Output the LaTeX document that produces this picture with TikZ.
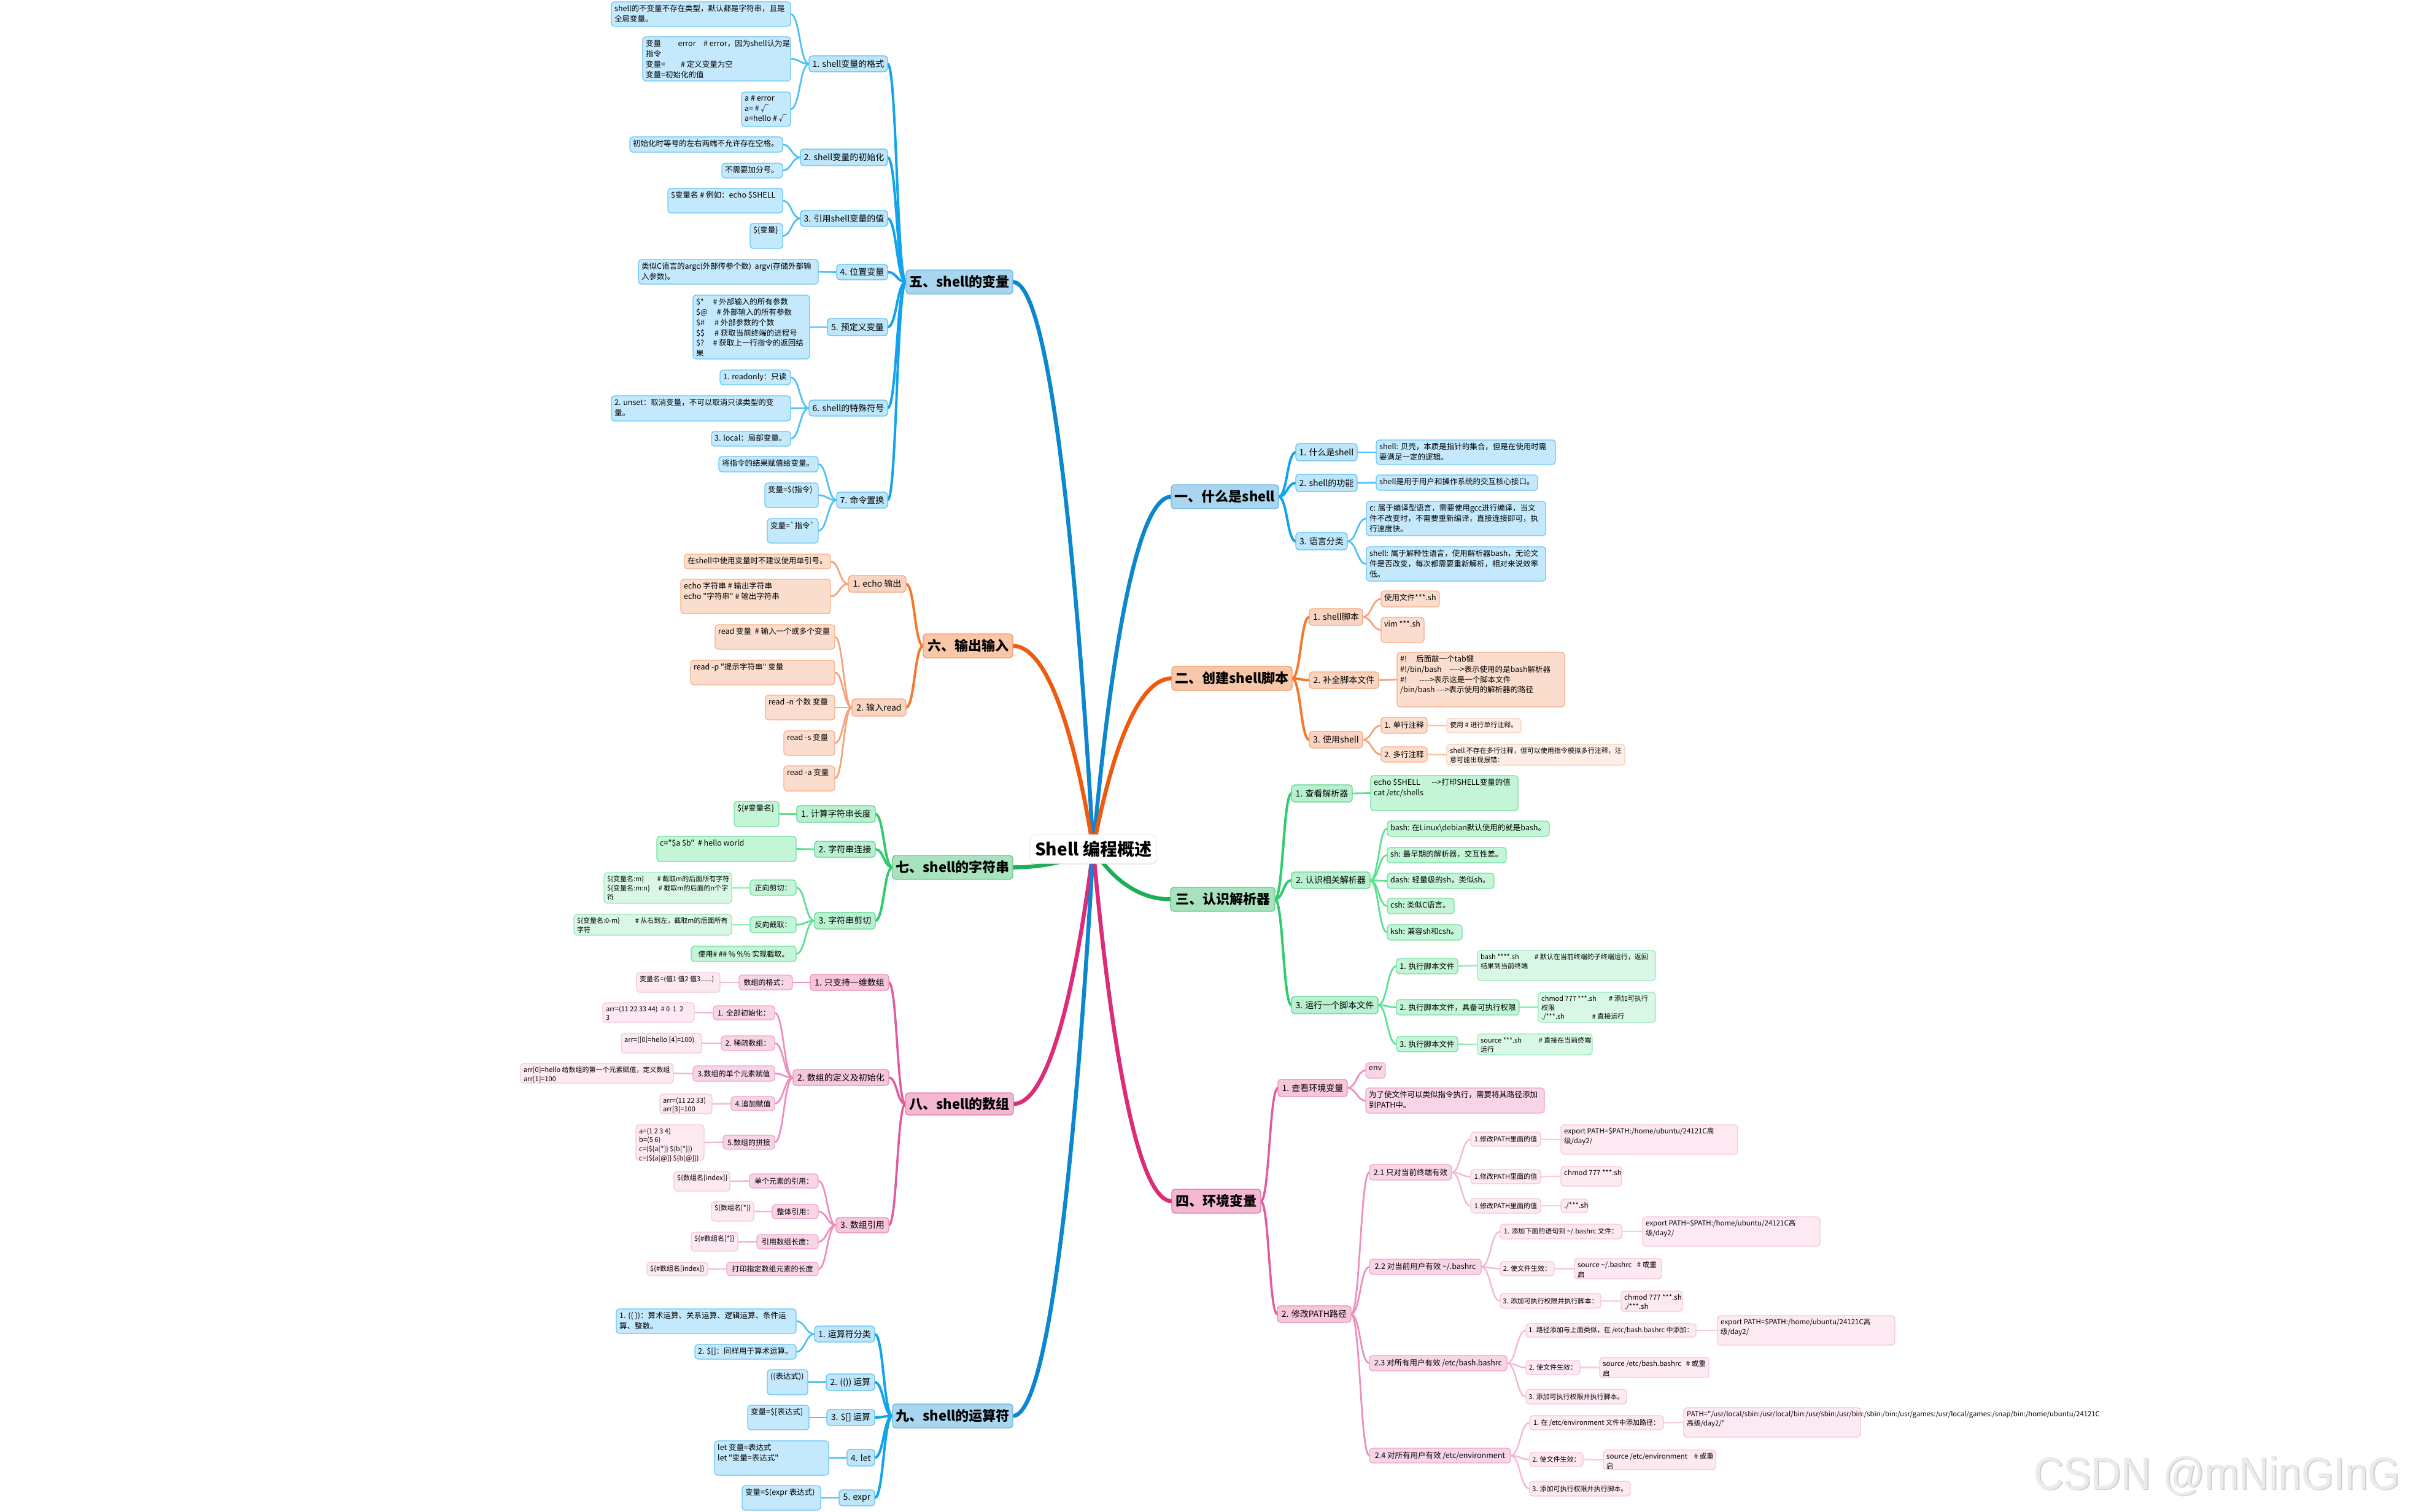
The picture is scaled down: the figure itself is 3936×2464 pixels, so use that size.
\documentclass[tikz,border=0pt]{standalone}
\usepackage{fontspec}
\newfontfamily\cjk{Noto Sans CJK SC}
\newfontfamily\wmf[FakeStretch=0.9]{Liberation Sans}
\usetikzlibrary{calc,shadows}
\pgfdeclarelayer{back}
\pgfdeclarelayer{bg}
\pgfsetlayers{back,bg,main}
\definecolor{bAf}{HTML}{A9D5EE}\definecolor{bAd}{HTML}{6DB8E4}
\definecolor{bBf}{HTML}{BEE6FA}\definecolor{bBd}{HTML}{5DC1F3}
\definecolor{bCf}{HTML}{C4E9FD}\definecolor{bCd}{HTML}{67C6F6}
\definecolor{oAf}{HTML}{F8C6A9}\definecolor{oAd}{HTML}{F39A68}
\definecolor{oBf}{HTML}{F9D5C1}\definecolor{oBd}{HTML}{F6A57B}
\definecolor{oCf}{HTML}{FADDCC}\definecolor{oCd}{HTML}{F8B089}
\definecolor{oDf}{HTML}{FDEEE6}\definecolor{oDd}{HTML}{FBD0B8}
\definecolor{gAf}{HTML}{A8E2BF}\definecolor{gAd}{HTML}{63C98B}
\definecolor{gBf}{HTML}{B9F0CF}\definecolor{gBd}{HTML}{5BD78C}
\definecolor{gCf}{HTML}{C3F5D6}\definecolor{gCd}{HTML}{72E0A0}
\definecolor{gDf}{HTML}{D8F8E5}\definecolor{gDd}{HTML}{9BE9BB}
\definecolor{pAf}{HTML}{F3B7D2}\definecolor{pAd}{HTML}{E573A8}
\definecolor{pBf}{HTML}{F6C6DB}\definecolor{pBd}{HTML}{EC8CBA}
\definecolor{pCf}{HTML}{F8D5E6}\definecolor{pCd}{HTML}{F1A5C9}
\definecolor{pDf}{HTML}{FCE9F2}\definecolor{pDd}{HTML}{F7C5DC}
\definecolor{bT}{HTML}{0C86CF}\definecolor{bL2}{HTML}{11A3EC}\definecolor{bL3}{HTML}{4EC1F6}
\definecolor{oT}{HTML}{EE5B10}\definecolor{oL2}{HTML}{F4792F}\definecolor{oL3}{HTML}{F6A27B}\definecolor{oL4}{HTML}{F9C3A6}
\definecolor{gT}{HTML}{1DAF57}\definecolor{gL2}{HTML}{2ECC6E}\definecolor{gL3}{HTML}{5EE092}\definecolor{gL4}{HTML}{95ECB8}
\definecolor{pT}{HTML}{DC2B78}\definecolor{pL2}{HTML}{E35A9D}\definecolor{pL3}{HTML}{EC8FBE}\definecolor{pL4}{HTML}{F4B6D3}\definecolor{pL5}{HTML}{F8CCE0}
\definecolor{wmc}{HTML}{EBEBEB}\definecolor{wms}{HTML}{CDCDCD}
\newcommand\fsz[1]{\fontsize{#1}{\fpeval{1.34*#1}}\selectfont}
\tikzset{
 nbase/.style={draw, rounded corners=5pt, line width=1.3pt, inner sep=2pt, outer sep=0pt},
 bA/.style={fill=bAf,draw=bAd}, bB/.style={fill=bBf,draw=bBd}, bC/.style={fill=bCf,draw=bCd},
 oA/.style={fill=oAf,draw=oAd}, oB/.style={fill=oBf,draw=oBd}, oC/.style={fill=oCf,draw=oCd}, oD/.style={fill=oDf,draw=oDd},
 gA/.style={fill=gAf,draw=gAd}, gB/.style={fill=gBf,draw=gBd}, gC/.style={fill=gCf,draw=gCd}, gD/.style={fill=gDf,draw=gDd},
 pA/.style={fill=pAf,draw=pAd}, pB/.style={fill=pBf,draw=pBd}, pC/.style={fill=pCf,draw=pCd}, pD/.style={fill=pDf,draw=pDd},
 cn/.style={line cap=round, fill=none},
 tB/.style={cn,draw=bT,line width=6.5pt}, tO/.style={cn,draw=oT,line width=6.5pt},
 tG/.style={cn,draw=gT,line width=6.5pt}, tP/.style={cn,draw=pT,line width=6.5pt},
 lB2/.style={cn,draw=bL2,line width=4pt}, lB3/.style={cn,draw=bL3,line width=2.8pt},
 lO2/.style={cn,draw=oL2,line width=4pt}, lO3/.style={cn,draw=oL3,line width=2.8pt}, lO4/.style={cn,draw=oL4,line width=2.4pt},
 lG2/.style={cn,draw=gL2,line width=4pt}, lG3/.style={cn,draw=gL3,line width=2.8pt}, lG4/.style={cn,draw=gL4,line width=2.4pt},
 lP2/.style={cn,draw=pL2,line width=3.6pt}, lP3/.style={cn,draw=pL3,line width=2.8pt}, lP4/.style={cn,draw=pL4,line width=2.4pt}, lP5/.style={cn,draw=pL5,line width=2.2pt},
}
% centred box: style, size, name, x1,y1,x2,y2, text
\newcommand\nb[8]{\node[nbase,#1,font=\cjk\fsz{#2},minimum width={#6-#4},minimum height={#7-#5}] (#3) at ({(#4+#6)/2},{(#5+#7)/2}) {#8};}
% leaf box with top-left text
\newcommand\lf[8]{\node[nbase,#1,minimum width={#6-#4},minimum height={#7-#5}] (#3) at ({(#4+#6)/2},{(#5+#7)/2}) {};%
\node[anchor=north west,inner sep=0pt,align=left,font=\cjk\fsz{#2}] (#3t) at ([xshift=5pt,yshift=-5pt]#3.north west) {#8};}
\newcommand\cc[3]{\draw[#1] let \p1=(#2), \p2=(#3) in (\p1) .. controls ({0.5*(\x1+\x2)},\y1) and ({0.5*(\x1+\x2)},\y2) .. (\p2);}
\newcommand\cL[3]{\cc{#1}{#2.west}{#3.east}}
\newcommand\cR[3]{\cc{#1}{#2.east}{#3.west}}
\newcommand\rc[2]{\draw[#1] let \p1=(root.center), \p2=(#2) in (\p1) .. controls ({\x1+0.12*(\x2-\x1)},{\y1+0.3*(\y2-\y1)}) and ({\x2-0.55*(\x2-\x1)},\y2) .. (\p2);}
\begin{document}
\begin{tikzpicture}[x=1pt,y=-1pt]
\useasboundingbox (0,0) rectangle (3936,2464);
\begin{pgfonlayer}{back}
\fill[white] (0,0) rectangle (3936,2464);
\end{pgfonlayer}

\node[fill=white, draw=black!8, line width=1pt, rounded corners=8pt, minimum width=206, minimum height=47, font=\cjk\fsz{28}\bfseries, drop shadow={shadow xshift=0pt,shadow yshift=-2pt,opacity=0.15}] (root) at (1781,1383.5) {Shell 编程概述};

% ===== 五 =====
\nb{bA}{22}{n5}{1476}{440}{1650}{479}{\bfseries 五、shell的变量}
\nb{bB}{14}{n5a}{1318}{91}{1446}{117}{1. shell变量的格式}
\nb{bB}{14}{n5b}{1304}{243}{1446}{270}{2. shell变量的初始化}
\nb{bB}{14}{n5c}{1304}{343}{1446}{369}{3. 引用shell变量的值}
\nb{bB}{14}{n5d}{1363}{431}{1446}{456}{4. 位置变量}
\nb{bB}{14}{n5e}{1348}{519}{1446}{547}{5. 预定义变量}
\nb{bB}{14}{n5f}{1318}{652}{1446}{678}{6. shell的特殊符号}
\nb{bB}{14}{n5g}{1363}{802}{1446}{828}{7. 命令置换}
\lf{bC}{12.5}{n5a1}{996}{3}{1288}{43}{shell的不变量不存在类型，默认都是字符串，且是\\全局变量。}
\lf{bC}{12.5}{n5a2}{1047}{60}{1288}{132}{变量\hspace{2.2em}error\hspace{1em}\# error，因为shell认为是\\指令\\变量=\hspace{2em}\# 定义变量为空\\变量=初始化的值}
\lf{bC}{12.5}{n5a3}{1208}{150}{1288}{206}{a \# error\\a= \# √\\a=hello \# √}
\lf{bC}{12.5}{n5b1}{1026}{223}{1275}{248}{初始化时等号的左右两端不允许存在空格。}
\lf{bC}{12.5}{n5b2}{1176}{266}{1275}{290}{不需要加分号。}
\lf{bC}{12.5}{n5c1}{1088}{307}{1275}{347}{\$变量名 \# 例如：echo \$SHELL}
\lf{bC}{12.5}{n5c2}{1222}{364}{1275}{405}{\$\{变量\}}
\lf{bC}{12.5}{n5d1}{1040}{423}{1333}{463}{类似C语言的argc(外部传参个数)\ \ argv(存储外部输\\入参数)。}
\lf{bC}{12.5}{n5e1}{1129}{481}{1319}{585}{\makebox[2.2em][l]{\$*}\# 外部输入的所有参数\\\makebox[2.7em][l]{\$@}\# 外部输入的所有参数\\\makebox[2.4em][l]{\$\#}\# 外部参数的个数\\\makebox[2.4em][l]{\$\$}\# 获取当前终端的进程号\\\makebox[2.2em][l]{\$?}\# 获取上一行指令的返回结\\果}
\lf{bC}{12.5}{n5f1}{1173}{603}{1288}{627}{1. readonly：只读}
\lf{bC}{12.5}{n5f2}{996}{645}{1288}{686}{2. unset：取消变量，不可以取消只读类型的变\\量。}
\lf{bC}{12.5}{n5f3}{1159}{703}{1288}{727}{3. local：局部变量。}
\lf{bC}{12.5}{n5g1}{1171}{744}{1333}{769}{将指令的结果赋值给变量。}
\lf{bC}{12.5}{n5g2}{1246}{787}{1333}{827}{变量=\$(指令)}
\lf{bC}{12.5}{n5g3}{1250}{845}{1333}{885}{变量=`指令`}

% ===== 六 =====
\nb{oA}{22}{n6}{1504}{1033}{1650}{1072}{\bfseries 六、输出输入}
\nb{oB}{14}{n6a}{1382}{938}{1476}{965}{1. echo 输出}
\nb{oB}{14}{n6b}{1388}{1139}{1476}{1167}{2. 输入read}
\lf{oC}{12.5}{n6a1}{1115}{903}{1353}{927}{在shell中使用变量时不建议使用单引号。}
\lf{oC}{12.5}{n6a2}{1109}{944}{1353}{1000}{echo 字符串 \# 输出字符串\\echo "字符串" \# 输出字符串}
\lf{oC}{12.5}{n6b1}{1165}{1018}{1360}{1058}{read 变量\ \ \# 输入一个或多个变量}
\lf{oC}{12.5}{n6b2}{1125}{1076}{1360}{1116}{read -p "提示字符串" 变量}
\lf{oC}{12.5}{n6b3}{1247}{1133}{1360}{1173}{read -n 个数 变量}
\lf{oC}{12.5}{n6b4}{1277}{1191}{1360}{1231}{read -s 变量}
\lf{oC}{12.5}{n6b5}{1277}{1248}{1360}{1289}{read -a 变量}

% ===== 七 =====
\nb{gA}{22}{n7}{1454}{1394}{1650}{1433}{\bfseries 七、shell的字符串}
\nb{gB}{14}{n7a}{1298}{1313}{1426}{1340}{1. 计算字符串长度}
\nb{gB}{14}{n7b}{1327}{1371}{1426}{1397}{2. 字符串连接}
\nb{gB}{14}{n7c}{1327}{1487}{1426}{1514}{3. 字符串剪切}
\lf{gC}{12.5}{n7a1}{1196}{1306}{1269}{1347}{\$\{\#变量名\}}
\lf{gC}{12.5}{n7b1}{1070}{1363}{1297}{1404}{c="\$a \$b"\ \ \# hello world}
\nb{gC}{12}{n7c1}{1222}{1434}{1297}{1459}{正向剪切：}
\nb{gC}{12}{n7c2}{1222}{1494}{1297}{1520}{反向截取：}
\nb{gC}{12}{n7c3}{1126}{1542}{1297}{1567}{使用\# \#\# \% \%\% 实现截取。}
\lf{gD}{11}{n7c1a}{984}{1422}{1192}{1472}{\makebox[7.4em][l]{\$\{变量名:m\}}\# 截取m的后面所有字符\\\makebox[7.6em][l]{\$\{变量名:m:n\}}\# 截取m的后面的n个字\\符}
\lf{gD}{11}{n7c2a}{935}{1490}{1192}{1524}{\makebox[8.6em][l]{\$\{变量名:0-m\}}\# 从右到左，截取m的后面所有\\字符}

% ===== 八 =====
\nb{pA}{22}{n8}{1475}{1781}{1651}{1817}{\bfseries 八、shell的数组}
\nb{pB}{14}{n8a}{1320}{1588}{1448}{1614}{1. 只支持一维数组}
\nb{pB}{14}{n8b}{1292}{1743}{1448}{1769}{2. 数组的定义及初始化}
\nb{pB}{14}{n8c}{1362}{1984}{1448}{2009}{3. 数组引用}
\nb{pC}{12}{n8a1}{1204}{1589}{1291}{1613}{数组的格式：}
\nb{pC}{12}{n8b1}{1162}{1639}{1262}{1662}{1. 全部初始化：}
\nb{pC}{12}{n8b2}{1175}{1688}{1262}{1712}{2. 稀疏数组：}
\nb{pC}{12}{n8b3}{1129}{1737}{1262}{1762}{3.数组的单个元素赋值}
\nb{pC}{12}{n8b4}{1191}{1787}{1262}{1810}{4.追加赋值}
\nb{pC}{12}{n8b5}{1178}{1850}{1262}{1873}{5.数组的拼接}
\nb{pC}{12}{n8c1}{1221}{1913}{1333}{1936}{单个元素的引用：}
\nb{pC}{12}{n8c2}{1258}{1963}{1333}{1986}{整体引用：}
\nb{pC}{12}{n8c3}{1233}{2012}{1333}{2035}{引用数组长度：}
\nb{pC}{12}{n8c4}{1184}{2057}{1333}{2079}{打印指定数组元素的长度}
\lf{pD}{11}{n8a1a}{1037}{1585}{1173}{1617}{变量名=(值1 值2 值3......)}
\lf{pD}{11}{n8b1a}{982}{1634}{1131}{1666}{arr=(11 22 33 44)\ \ \# 0\ \ 1\ \ 2\\3}
\lf{pD}{11}{n8b2a}{1012}{1684}{1143}{1716}{arr=([0]=hello [4]=100)}
\lf{pD}{11}{n8b3a}{848}{1733}{1097}{1765}{arr[0]=hello 给数组的第一个元素赋值，定义数组\\arr[1]=100}
\lf{pD}{11}{n8b4a}{1075}{1783}{1160}{1815}{arr=(11 22 33)\\arr[3]=100}
\lf{pD}{11}{n8b5a}{1036}{1833}{1147}{1891}{a=(1 2 3 4)\\b=(5 6)\\c=(\$\{a[*]\} \$\{b[*]\})\\c=(\$\{a[@]\} \$\{b[@]\})}
\lf{pD}{11}{n8c1a}{1098}{1909}{1189}{1941}{\$\{数组名[index]\}}
\lf{pD}{11}{n8c2a}{1159}{1958}{1228}{1990}{\$\{数组名[*]\}}
\lf{pD}{11}{n8c3a}{1126}{2008}{1202}{2039}{\$\{\#数组名[*]\}}
\lf{pD}{11}{n8c4a}{1054}{2057}{1153}{2079}{\$\{\#数组名[index]\}}

% ===== 九 =====
\nb{bA}{22}{n9}{1454}{2288}{1650}{2327}{\bfseries 九、shell的运算符}
\nb{bB}{14}{n9a}{1327}{2161}{1425}{2187}{1. 运算符分类}
\nb{bB}{14}{n9b}{1346}{2239}{1425}{2266}{2. (()) 运算}
\nb{bB}{14}{n9c}{1347}{2297}{1425}{2323}{3. \$[] 运算}
\nb{bB}{14}{n9d}{1380}{2362}{1425}{2389}{4. let}
\nb{bB}{14}{n9e}{1367}{2428}{1425}{2454}{5. expr}
\lf{bC}{12.5}{n9a1}{1004}{2133}{1297}{2173}{1. ((\ ))：算术运算、关系运算、逻辑运算、条件运\\算、整数。}
\lf{bC}{12.5}{n9a2}{1132}{2191}{1297}{2215}{2. \$[]：同样用于算术运算。}
\lf{bC}{12.5}{n9b1}{1250}{2232}{1316}{2273}{((表达式))}
\lf{bC}{12.5}{n9c1}{1218}{2290}{1318}{2330}{变量=\$[表达式]}
\lf{bC}{12.5}{n9d1}{1164}{2348}{1350}{2404}{let 变量=表达式\\let "变量=表达式"}
\lf{bC}{12.5}{n9e1}{1209}{2421}{1337}{2461}{变量=\$(expr 表达式)}

% ===== 一 =====
\nb{bA}{22}{n1}{1908}{790}{2083}{829}{\bfseries 一、什么是shell}
\nb{bB}{14}{n1a}{2111}{723}{2211}{751}{1. 什么是shell}
\nb{bB}{14}{n1b}{2111}{773}{2211}{801}{2. shell的功能}
\nb{bB}{14}{n1c}{2111}{868}{2195}{896}{3. 语言分类}
\lf{bC}{12.5}{n1a1}{2242}{717}{2534}{757}{shell: 贝壳，本质是指针的集合，但是在使用时需\\要满足一定的逻辑。}
\lf{bC}{12.5}{n1b1}{2242}{774}{2505}{799}{shell是用于用户和操作系统的交互核心接口。}
\lf{bC}{12.5}{n1c1}{2226}{817}{2518}{873}{c: 属于编译型语言，需要使用gcc进行编译，当文\\件不改变时，不需要重新编译，直接连接即可，执\\行速度快。}
\lf{bC}{12.5}{n1c2}{2226}{891}{2518}{947}{shell: 属于解释性语言，使用解析器bash，无论文\\件是否改变，每次都需要重新解析，相对来说效率\\低。}

% ===== 二 =====
\nb{oA}{22}{n2}{1909}{1086}{2105}{1125}{\bfseries 二、创建shell脚本}
\nb{oB}{14}{n2a}{2133}{992}{2220}{1019}{1. shell脚本}
\nb{oB}{14}{n2b}{2133}{1095}{2246}{1122}{2. 补全脚本文件}
\nb{oB}{14}{n2c}{2133}{1192}{2220}{1219}{3. 使用shell}
\lf{oC}{12.5}{n2a1}{2250}{963}{2345}{989}{使用文件***.sh}
\lf{oC}{12.5}{n2a2}{2250}{1006}{2320}{1047}{vim ***.sh}
\lf{oC}{12.5}{n2b1}{2276}{1063}{2549}{1152}{\#!\hspace{1.2em}后面敲一个tab键\\\#!/bin/bash\hspace{1em}---->表示使用的是bash解析器\\\#!\hspace{1.6em}---->表示这是一个脚本文件\\/bin/bash --->表示使用的解析器的路径}
\nb{oC}{12.5}{n2c1}{2250}{1169}{2325}{1195}{1. 单行注释}
\nb{oC}{12.5}{n2c2}{2250}{1217}{2325}{1242}{2. 多行注释}
\lf{oD}{11}{n2c1a}{2357}{1171}{2478}{1194}{使用 \# 进行单行注释。}
\lf{oD}{11}{n2c2a}{2357}{1213}{2647}{1247}{shell 不存在多行注释，但可以使用指令模拟多行注释，注\\意可能出现报错：}

% ===== 三 =====
\nb{gA}{22}{n3}{1907}{1446}{2077}{1485}{\bfseries 三、认识解析器}
\nb{gB}{14}{n3a}{2104}{1279}{2203}{1307}{1. 查看解析器}
\nb{gB}{14}{n3b}{2104}{1421}{2232}{1448}{2. 认识相关解析器}
\nb{gB}{14}{n3c}{2104}{1624}{2245}{1652}{3. 运行一个脚本文件}
\lf{gC}{12.5}{n3a1}{2233}{1264}{2473}{1321}{echo \$SHELL\hspace{1.5em}-->打印SHELL变量的值\\cat /etc/shells}
\lf{gC}{12.5}{n3b1}{2260}{1338}{2524}{1363}{bash: 在Linux\textbackslash debian默认使用的就是bash。}
\lf{gC}{12.5}{n3b2}{2260}{1381}{2454}{1406}{sh: 最早期的解析器，交互性差。}
\lf{gC}{12.5}{n3b3}{2260}{1423}{2434}{1448}{dash: 轻量级的sh，类似sh。}
\lf{gC}{12.5}{n3b4}{2260}{1464}{2369}{1489}{csh: 类似C语言。}
\lf{gC}{12.5}{n3b5}{2260}{1507}{2382}{1532}{ksh: 兼容sh和csh。}
\nb{gC}{12.5}{n3c1}{2275}{1562}{2375}{1587}{1. 执行脚本文件}
\nb{gC}{12.5}{n3c2}{2275}{1629}{2475}{1654}{2. 执行脚本文件，具备可执行权限}
\nb{gC}{12.5}{n3c3}{2275}{1689}{2375}{1714}{3. 执行脚本文件}
\lf{gD}{11}{n3c1a}{2407}{1549}{2697}{1598}{\makebox[8em][l]{bash ****.sh}\# 默认在当前终端的子终端运行，返回\\结果到当前终端}
\lf{gD}{11}{n3c2a}{2506}{1617}{2697}{1666}{\makebox[10em][l]{chmod 777 ***.sh}\# 添加可执行\\权限\\\makebox[7.5em][l]{./***.sh}\# 直接运行}
\lf{gD}{11}{n3c3a}{2407}{1685}{2594}{1719}{\makebox[8.6em][l]{source ***.sh}\# 直接在当前终端\\运行}

% ===== 四 =====
\nb{pA}{22}{n4}{1909}{1938}{2054}{1977}{\bfseries 四、环境变量}
\nb{pB}{14}{n4a}{2082}{1759}{2195}{1787}{1. 查看环境变量}
\nb{pB}{14}{n4b}{2081}{2128}{2201}{2155}{2. 修改PATH路径}
\lf{pC}{12.5}{n4a1}{2225}{1732}{2257}{1757}{env}
\lf{pC}{12.5}{n4a2}{2225}{1773}{2516}{1814}{为了使文件可以类似指令执行，需要将其路径添加\\到PATH中。}
\nb{pC}{12.5}{n4b1}{2231}{1898}{2365}{1923}{2.1 只对当前终端有效}
\nb{pC}{12.5}{n4b2}{2231}{2052}{2413}{2077}{2.2 对当前用户有效 \textasciitilde/.bashrc}
\nb{pC}{12.5}{n4b3}{2231}{2209}{2455}{2234}{2.3 对所有用户有效 /etc/bash.bashrc}
\nb{pC}{12.5}{n4b4}{2231}{2360}{2461}{2384}{2.4 对所有用户有效 /etc/environment}
\nb{pD}{11}{n4b1a}{2396}{1845}{2510}{1868}{1.修改PATH里面的值}
\nb{pD}{11}{n4b1b}{2396}{1906}{2510}{1929}{1.修改PATH里面的值}
\nb{pD}{11}{n4b1c}{2396}{1953}{2510}{1977}{1.修改PATH里面的值}
\lf{pD}{11.5}{n4b1a1}{2543}{1833}{2831}{1881}{export PATH=\$PATH:/home/ubuntu/24121C高\\级/day2/}
\lf{pD}{11.5}{n4b1b1}{2543}{1901}{2642}{1933}{chmod 777 ***.sh}
\lf{pD}{11.5}{n4b1c1}{2543}{1954}{2587}{1976}{./***.sh}
\nb{pD}{11}{n4b2a}{2444}{1995}{2642}{2019}{1. 添加下面的语句到 \textasciitilde/.bashrc 文件：}
\nb{pD}{11}{n4b2b}{2444}{2056}{2532}{2079}{2. 使文件生效：}
\nb{pD}{11}{n4b2c}{2444}{2108}{2608}{2132}{3. 添加可执行权限并执行脚本：}
\lf{pD}{11.5}{n4b2a1}{2676}{1983}{2965}{2031}{export PATH=\$PATH:/home/ubuntu/24121C高\\级/day2/}
\lf{pD}{11.5}{n4b2b1}{2565}{2051}{2707}{2084}{\makebox[8.4em][l]{source \textasciitilde/.bashrc}\# 或重\\启}
\lf{pD}{11.5}{n4b2c1}{2641}{2104}{2741}{2137}{chmod 777 ***.sh\\./***.sh}
\nb{pD}{11}{n4b3a}{2486}{2157}{2763}{2179}{1. 路径添加与上面类似，在 /etc/bash.bashrc 中添加：}
\nb{pD}{11}{n4b3b}{2486}{2217}{2574}{2240}{2. 使文件生效：}
\nb{pD}{11}{n4b3c}{2486}{2264}{2650}{2288}{3. 添加可执行权限并执行脚本。}
\lf{pD}{11.5}{n4b3a1}{2798}{2144}{3087}{2192}{export PATH=\$PATH:/home/ubuntu/24121C高\\级/day2/}
\lf{pD}{11.5}{n4b3b1}{2606}{2212}{2784}{2245}{\makebox[11.8em][l]{source /etc/bash.bashrc}\# 或重\\启}
\nb{pD}{11}{n4b4a}{2492}{2307}{2710}{2330}{1. 在 /etc/environment 文件中添加路径：}
\nb{pD}{11}{n4b4b}{2492}{2367}{2579}{2390}{2. 使文件生效：}
\nb{pD}{11}{n4b4c}{2492}{2414}{2656}{2438}{3. 添加可执行权限并执行脚本。}
\lf{pD}{11.3}{n4b4a1}{2743}{2294}{3031}{2342}{PATH="/usr/local/sbin:/usr/local/bin:/usr/sbin:/usr/bin:/sbin:/bin:/usr/games:/usr/local/games:/snap/bin:/home/ubuntu/24121C\\高级/day2/"}
\lf{pD}{11.5}{n4b4b1}{2612}{2363}{2795}{2395}{\makebox[12.4em][l]{source /etc/environment}\# 或重\\启}

% ===== watermark =====
\node[anchor=base west,inner sep=0pt,font=\wmf\fontsize{75}{80}\selectfont,text=wms] (wms) at (3315,2428.5) {CSDN @mNinGInG};
\node[anchor=base west,inner sep=0pt,font=\wmf\fontsize{75}{80}\selectfont,text=wmc] (wm) at (3313,2427) {CSDN @mNinGInG};

% ===== connectors =====
\begin{pgfonlayer}{bg}
\rc{tB}{n5.east}\rc{tO}{n6.east}\rc{tG}{n7.east}\rc{tP}{n8.east}\rc{tB}{n9.east}
\rc{tB}{n1.west}\rc{tO}{n2.west}\rc{tG}{n3.west}\rc{tP}{n4.west}
% 五
\cL{lB2}{n5}{n5a}\cL{lB2}{n5}{n5b}\cL{lB2}{n5}{n5c}\cL{lB2}{n5}{n5d}\cL{lB2}{n5}{n5e}\cL{lB2}{n5}{n5f}\cL{lB2}{n5}{n5g}
\cL{lB3}{n5a}{n5a1}\cL{lB3}{n5a}{n5a2}\cL{lB3}{n5a}{n5a3}
\cL{lB3}{n5b}{n5b1}\cL{lB3}{n5b}{n5b2}
\cL{lB3}{n5c}{n5c1}\cL{lB3}{n5c}{n5c2}
\cL{lB3}{n5d}{n5d1}\cL{lB3}{n5e}{n5e1}
\cL{lB3}{n5f}{n5f1}\cL{lB3}{n5f}{n5f2}\cL{lB3}{n5f}{n5f3}
\cL{lB3}{n5g}{n5g1}\cL{lB3}{n5g}{n5g2}\cL{lB3}{n5g}{n5g3}
% 六
\cL{lO2}{n6}{n6a}\cL{lO2}{n6}{n6b}
\cL{lO3}{n6a}{n6a1}\cL{lO3}{n6a}{n6a2}
\cL{lO3}{n6b}{n6b1}\cL{lO3}{n6b}{n6b2}\cL{lO3}{n6b}{n6b3}\cL{lO3}{n6b}{n6b4}\cL{lO3}{n6b}{n6b5}
% 七
\cL{lG2}{n7}{n7a}\cL{lG2}{n7}{n7b}\cL{lG2}{n7}{n7c}
\cL{lG3}{n7a}{n7a1}\cL{lG3}{n7b}{n7b1}
\cL{lG3}{n7c}{n7c1}\cL{lG3}{n7c}{n7c2}\cL{lG3}{n7c}{n7c3}
\cL{lG4}{n7c1}{n7c1a}\cL{lG4}{n7c2}{n7c2a}
% 八
\cL{lP2}{n8}{n8a}\cL{lP2}{n8}{n8b}\cL{lP2}{n8}{n8c}
\cL{lP3}{n8a}{n8a1}
\cL{lP3}{n8b}{n8b1}\cL{lP3}{n8b}{n8b2}\cL{lP3}{n8b}{n8b3}\cL{lP3}{n8b}{n8b4}\cL{lP3}{n8b}{n8b5}
\cL{lP3}{n8c}{n8c1}\cL{lP3}{n8c}{n8c2}\cL{lP3}{n8c}{n8c3}\cL{lP3}{n8c}{n8c4}
\cL{lP4}{n8a1}{n8a1a}
\cL{lP4}{n8b1}{n8b1a}\cL{lP4}{n8b2}{n8b2a}\cL{lP4}{n8b3}{n8b3a}\cL{lP4}{n8b4}{n8b4a}\cL{lP4}{n8b5}{n8b5a}
\cL{lP4}{n8c1}{n8c1a}\cL{lP4}{n8c2}{n8c2a}\cL{lP4}{n8c3}{n8c3a}\cL{lP4}{n8c4}{n8c4a}
% 九
\cL{lB2}{n9}{n9a}\cL{lB2}{n9}{n9b}\cL{lB2}{n9}{n9c}\cL{lB2}{n9}{n9d}\cL{lB2}{n9}{n9e}
\cL{lB3}{n9a}{n9a1}\cL{lB3}{n9a}{n9a2}\cL{lB3}{n9b}{n9b1}\cL{lB3}{n9c}{n9c1}\cL{lB3}{n9d}{n9d1}\cL{lB3}{n9e}{n9e1}
% 一
\cR{lB2}{n1}{n1a}\cR{lB2}{n1}{n1b}\cR{lB2}{n1}{n1c}
\cR{lB3}{n1a}{n1a1}\cR{lB3}{n1b}{n1b1}\cR{lB3}{n1c}{n1c1}\cR{lB3}{n1c}{n1c2}
% 二
\cR{lO2}{n2}{n2a}\cR{lO2}{n2}{n2b}\cR{lO2}{n2}{n2c}
\cR{lO3}{n2a}{n2a1}\cR{lO3}{n2a}{n2a2}\cR{lO3}{n2b}{n2b1}\cR{lO3}{n2c}{n2c1}\cR{lO3}{n2c}{n2c2}
\cR{lO4}{n2c1}{n2c1a}\cR{lO4}{n2c2}{n2c2a}
% 三
\cR{lG2}{n3}{n3a}\cR{lG2}{n3}{n3b}\cR{lG2}{n3}{n3c}
\cR{lG3}{n3a}{n3a1}
\cR{lG3}{n3b}{n3b1}\cR{lG3}{n3b}{n3b2}\cR{lG3}{n3b}{n3b3}\cR{lG3}{n3b}{n3b4}\cR{lG3}{n3b}{n3b5}
\cR{lG3}{n3c}{n3c1}\cR{lG3}{n3c}{n3c2}\cR{lG3}{n3c}{n3c3}
\cR{lG4}{n3c1}{n3c1a}\cR{lG4}{n3c2}{n3c2a}\cR{lG4}{n3c3}{n3c3a}
% 四
\cR{lP2}{n4}{n4a}\cR{lP2}{n4}{n4b}
\cR{lP3}{n4a}{n4a1}\cR{lP3}{n4a}{n4a2}
\cR{lP3}{n4b}{n4b1}\cR{lP3}{n4b}{n4b2}\cR{lP3}{n4b}{n4b3}\cR{lP3}{n4b}{n4b4}
\cR{lP4}{n4b1}{n4b1a}\cR{lP4}{n4b1}{n4b1b}\cR{lP4}{n4b1}{n4b1c}
\cR{lP4}{n4b2}{n4b2a}\cR{lP4}{n4b2}{n4b2b}\cR{lP4}{n4b2}{n4b2c}
\cR{lP4}{n4b3}{n4b3a}\cR{lP4}{n4b3}{n4b3b}\cR{lP4}{n4b3}{n4b3c}
\cR{lP4}{n4b4}{n4b4a}\cR{lP4}{n4b4}{n4b4b}\cR{lP4}{n4b4}{n4b4c}
\cR{lP5}{n4b1a}{n4b1a1}\cR{lP5}{n4b1b}{n4b1b1}\cR{lP5}{n4b1c}{n4b1c1}
\cR{lP5}{n4b2a}{n4b2a1}\cR{lP5}{n4b2b}{n4b2b1}\cR{lP5}{n4b2c}{n4b2c1}
\cR{lP5}{n4b3a}{n4b3a1}\cR{lP5}{n4b3b}{n4b3b1}
\cR{lP5}{n4b4a}{n4b4a1}\cR{lP5}{n4b4b}{n4b4b1}
\end{pgfonlayer}
\end{tikzpicture}
\end{document}
